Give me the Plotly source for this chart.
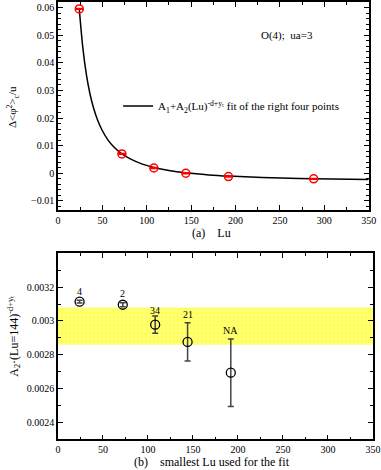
import plotly.graph_objects as go

# panel (a): data points and fit curve
lu_pts = [24, 72, 108, 144, 192, 288]
dphi_pts = [0.0595, 0.0070, 0.0019, 0.0000, -0.0012, -0.0020]
dphi_err = [0.0002, 0.0002, 0.0002, 0.0002, 0.0002, 0.0002]

fit_lu = [24, 28, 32, 36, 40, 45, 50, 56, 63, 72, 82, 95, 108, 125, 144, 170, 192, 230, 288, 350]
fit_val = [0.0595, 0.0454, 0.0357, 0.0288, 0.0237, 0.0189, 0.0154, 0.0122, 0.0095, 0.0070,
           0.0051, 0.0033, 0.0021, 0.0010, 0.00016, -0.0006, -0.00103, -0.00154, -0.0020, -0.00226]

# panel (b): A2*(144)^(-d+yt) vs smallest Lu used
lu_min = [24, 72, 108, 144, 192]
a2_val = [0.003114, 0.003096, 0.002978, 0.002876, 0.002694]
a2_err = [0.000008, 0.000012, 0.000051, 0.000113, 0.000200]
pt_labels = ['4', '2', '34', '21', 'NA']
label_y = [0.003174, 0.003160, 0.003062, 0.003037, 0.002945]
band_lo, band_hi = 0.00286, 0.00308
b_ticks = [0.0024, 0.0026, 0.0028, 0.003, 0.0032]

serif = 'Liberation Serif'

fig = go.Figure()

fig.add_trace(go.Scatter(
    x=fit_lu, y=fit_val, mode='lines', line=dict(color='black', width=1.5, shape='spline'),
    name='A<sub>1</sub>+A<sub>2</sub>(Lu)<sup>-d+yₜ</sup> fit of the right four points',
    xaxis='x', yaxis='y', showlegend=True))
fig.add_trace(go.Scatter(
    x=lu_pts, y=dphi_pts, mode='markers',
    marker=dict(symbol='circle-open', size=8, color='red', line=dict(width=1.5)),
    error_y=dict(type='data', array=dphi_err, color='red', thickness=1.2, width=4),
    xaxis='x', yaxis='y', showlegend=False))

# yellow band
fig.add_trace(go.Scatter(
    x=[0, 350, 350, 0, 0], y=[band_lo, band_lo, band_hi, band_hi, band_lo],
    mode='lines', fill='toself', fillcolor='rgb(255,255,90)', line=dict(width=0),
    fillpattern=dict(shape='.', fgcolor='rgb(255,255,190)', bgcolor='rgb(255,255,90)',
                     size=4, solidity=0.3),
    xaxis='x2', yaxis='y2', showlegend=False, hoverinfo='skip'))
fig.add_trace(go.Scatter(
    x=lu_min, y=a2_val, mode='markers',
    marker=dict(symbol='circle-open', size=9, color='black', line=dict(width=1.3)),
    error_y=dict(type='data', array=a2_err, color='#444', thickness=1.5, width=3),
    xaxis='x2', yaxis='y2', showlegend=False))

for x, y, t in zip(lu_min, label_y, pt_labels):
    fig.add_annotation(x=x, y=y, xref='x2', yref='y2', text=t, showarrow=False,
                       font=dict(family=serif, size=10, color='black'))

axis_common = dict(showline=True, linecolor='black', linewidth=1.5, mirror='allticks',
                   ticks='inside', ticklen=5, tickwidth=1.2, tickcolor='black',
                   showgrid=False, zeroline=False, automargin=False,
                   tickfont=dict(family=serif, size=10, color='black'))

fig.update_layout(
    width=381, height=470,
    margin=dict(l=0, r=0, t=0, b=0, autoexpand=False),
    paper_bgcolor='white', plot_bgcolor='white',
    font=dict(family=serif, size=11, color='black'),
    xaxis=dict(axis_common, domain=[0.1522, 0.9677], range=[0, 350], dtick=50, anchor='y',
               minor=dict(dtick=25, ticks='inside', ticklen=3, tickcolor='black')),
    yaxis=dict(axis_common, domain=[0.5532, 0.9957], range=[-0.0133, 0.062], dtick=0.01, anchor='x',
               minor=dict(dtick=0.002, ticks='inside', ticklen=3, tickcolor='black')),
    xaxis2=dict(axis_common, domain=[0.1522, 0.979], range=[0, 350], dtick=50, anchor='y2',
                minor=dict(dtick=25, ticks='inside', ticklen=3, tickcolor='black')),
    yaxis2=dict(axis_common, domain=[0.0653, 0.461], range=[0.0023, 0.0034],
                tickvals=b_ticks, ticktext=[str(v) for v in b_ticks],
                anchor='x2', minor=dict(dtick=0.0001, ticks='inside', ticklen=3, tickcolor='black')),
    legend=dict(x=0.31, y=0.7745, xanchor='left', yanchor='middle', bgcolor='rgba(0,0,0,0)',
                font=dict(family=serif, size=11), itemwidth=30),
)

fig.add_annotation(x=258, y=0.0498, xref='x', yref='y', text='O(4);  ua=3', showarrow=False,
                   font=dict(family=serif, size=11))
fig.add_annotation(x=0.034, y=0.772, xref='paper', yref='paper', textangle=-90, showarrow=False,
                   xanchor='center', yanchor='middle',
                   text='Δ<φ<sup>2</sup>><sub>c</sub>/u', font=dict(family=serif, size=11))
fig.add_annotation(x=0.036, y=0.285, xref='paper', yref='paper', textangle=-90, showarrow=False,
                   xanchor='center', yanchor='middle',
                   text='A<sub>2</sub>·(Lu=144)<sup>-d+yₜ</sup>', font=dict(family=serif, size=12))
fig.add_annotation(x=0.554, y=0.504, xref='paper', yref='paper', showarrow=False,
                   xanchor='center', yanchor='middle',
                   text='(a)    Lu', font=dict(family=serif, size=12))
fig.add_annotation(x=0.556, y=0.017, xref='paper', yref='paper', showarrow=False,
                   xanchor='center', yanchor='middle',
                   text='(b)    smallest Lu used for the fit', font=dict(family=serif, size=12))

# page body has a default 8px margin; drop it so the figure sits at the window corner
fig.write_html("out.html", config={'displayModeBar': False},
               post_script="document.body.style.margin='0';")
